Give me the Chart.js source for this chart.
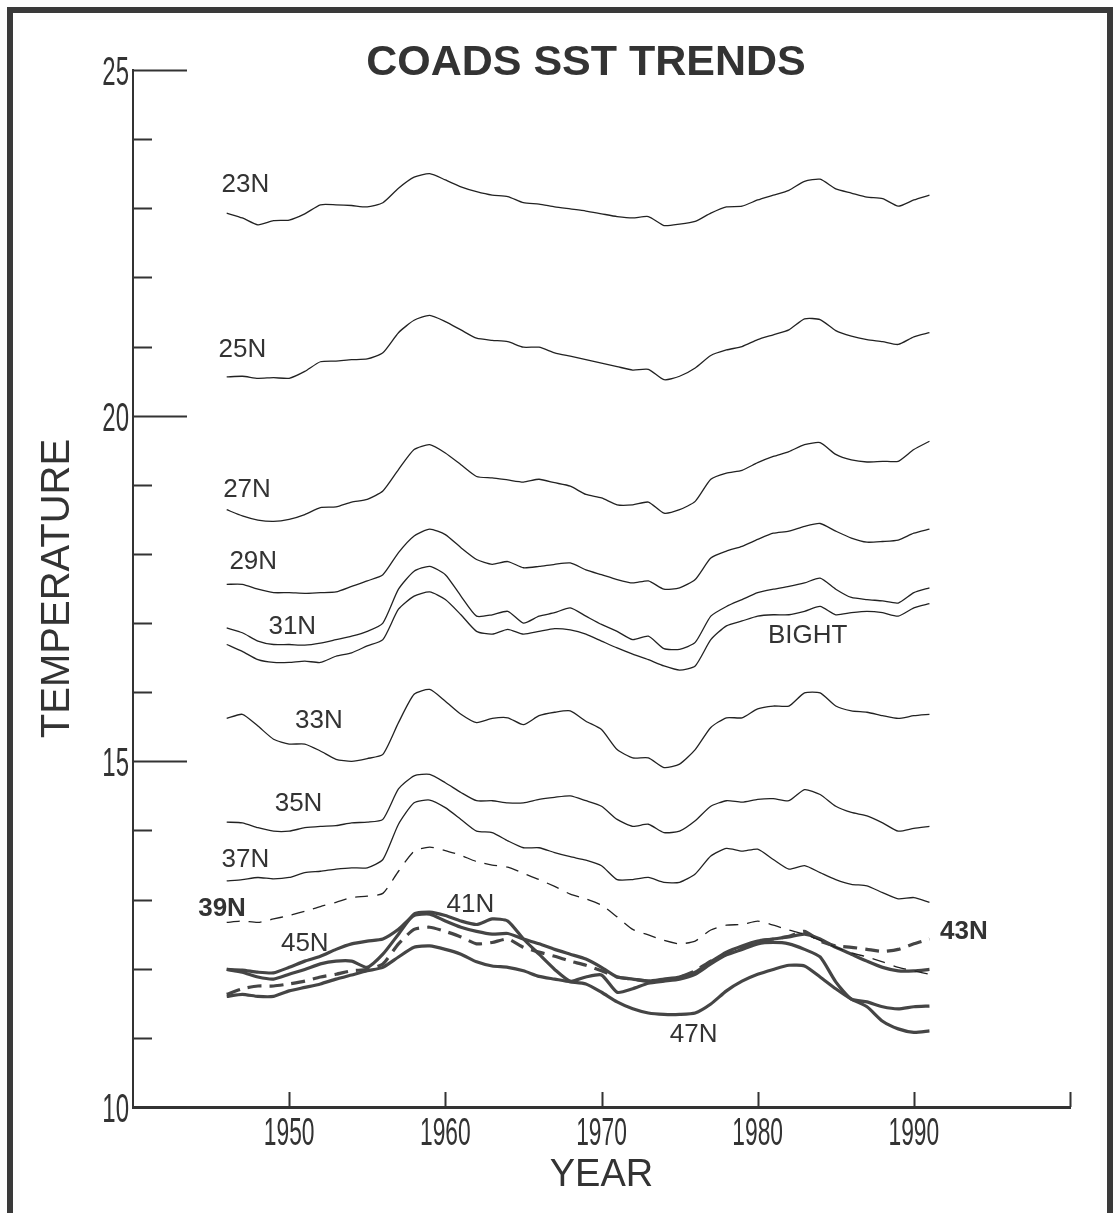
<!DOCTYPE html>
<html>
<head>
<meta charset="utf-8">
<script src="https://cdn.jsdelivr.net/npm/chart.js@4.4.1/dist/chart.umd.min.js"></script>
<style>
  html, body { margin: 0; padding: 0; background: #fff; }
  #wrap { position: relative; width: 1114px; height: 1213px; overflow: hidden; background: #fff; }
  #frame { position: absolute; left: 7px; top: 7px; width: 1094px; height: 1300px; border: 6px solid #3a3a3a; pointer-events: none; }
  canvas { position: absolute; left: 0; top: 0; }
</style>
</head>
<body>
<div id="wrap">
  <canvas id="sst" width="1114" height="1213"></canvas>
  <div id="frame"></div>
</div>
<script>
// yearly values, 1946-1991
const years = [];
for (let y = 1946; y <= 1991; y++) years.push(y);

const n23 = [22.93,22.86,22.76,22.82,22.83,22.92,23.05,23.05,23.04,23.02,23.08,23.29,23.45,23.50,23.41,23.31,23.24,23.19,23.17,23.08,23.06,23.02,22.99,22.96,22.92,22.88,22.86,22.88,22.75,22.77,22.81,22.93,23.02,23.03,23.12,23.19,23.26,23.39,23.42,23.28,23.22,23.16,23.14,23.03,23.12,23.19];
const n25 = [20.56,20.57,20.54,20.55,20.54,20.64,20.78,20.79,20.81,20.82,20.91,21.20,21.38,21.45,21.36,21.24,21.12,21.09,21.07,20.99,20.99,20.91,20.86,20.81,20.76,20.71,20.66,20.67,20.52,20.57,20.69,20.87,20.95,21.00,21.10,21.17,21.24,21.40,21.39,21.23,21.15,21.10,21.07,21.03,21.14,21.20];
const n27 = [18.64,18.55,18.49,18.47,18.50,18.57,18.67,18.68,18.75,18.79,18.91,19.22,19.51,19.58,19.46,19.29,19.12,19.10,19.07,19.04,19.08,19.03,18.98,18.86,18.81,18.71,18.71,18.75,18.59,18.64,18.76,19.08,19.17,19.21,19.32,19.41,19.48,19.58,19.61,19.44,19.36,19.33,19.34,19.34,19.51,19.63];
const n29 = [17.56,17.56,17.49,17.44,17.44,17.43,17.44,17.45,17.53,17.61,17.70,18.02,18.26,18.36,18.28,18.09,17.92,17.85,17.89,17.80,17.82,17.85,17.87,17.77,17.70,17.63,17.58,17.61,17.49,17.51,17.63,17.94,18.04,18.11,18.21,18.30,18.33,18.40,18.44,18.33,18.23,18.17,18.18,18.20,18.30,18.36];
const n31 = [16.93,16.86,16.74,16.69,16.69,16.68,16.71,16.76,16.81,16.88,17.00,17.49,17.75,17.82,17.70,17.39,17.10,17.12,17.17,17.00,17.10,17.15,17.22,17.10,16.98,16.88,16.76,16.81,16.63,16.62,16.72,17.10,17.24,17.34,17.44,17.49,17.53,17.58,17.65,17.49,17.37,17.34,17.32,17.29,17.44,17.51];
const bight = [16.69,16.59,16.47,16.43,16.43,16.45,16.43,16.52,16.57,16.67,16.76,17.20,17.39,17.45,17.34,17.12,16.88,16.84,16.91,16.84,16.88,16.92,16.90,16.84,16.74,16.64,16.55,16.47,16.38,16.32,16.38,16.76,16.96,17.03,17.10,17.12,17.12,17.17,17.24,17.12,17.15,17.17,17.15,17.10,17.22,17.28];
const n33 = [15.62,15.68,15.51,15.32,15.25,15.25,15.15,15.03,15.00,15.04,15.10,15.56,15.97,16.04,15.87,15.68,15.56,15.62,15.63,15.53,15.66,15.71,15.73,15.58,15.46,15.17,15.05,15.05,14.91,14.96,15.17,15.49,15.63,15.63,15.76,15.80,15.80,15.99,15.99,15.80,15.73,15.71,15.66,15.62,15.66,15.68];
const n35 = [14.12,14.11,14.04,13.99,13.99,14.04,14.06,14.07,14.11,14.12,14.16,14.60,14.79,14.81,14.69,14.55,14.43,14.43,14.40,14.40,14.45,14.48,14.50,14.43,14.35,14.16,14.06,14.09,13.97,13.99,14.14,14.35,14.43,14.41,14.45,14.46,14.43,14.59,14.52,14.35,14.26,14.21,14.11,13.99,14.03,14.06];
const n37 = [13.27,13.29,13.32,13.30,13.32,13.39,13.41,13.44,13.46,13.46,13.58,14.09,14.40,14.44,14.33,14.16,13.99,13.97,13.85,13.75,13.75,13.68,13.62,13.57,13.49,13.29,13.29,13.32,13.25,13.25,13.37,13.63,13.74,13.70,13.73,13.58,13.44,13.49,13.39,13.29,13.22,13.20,13.10,13.01,13.03,12.96];
const n39 = [12.67,12.69,12.67,12.72,12.77,12.83,12.90,12.96,13.03,13.05,13.09,13.41,13.70,13.76,13.71,13.64,13.55,13.50,13.47,13.38,13.29,13.19,13.08,13.01,12.92,12.75,12.57,12.49,12.41,12.36,12.40,12.56,12.63,12.64,12.69,12.63,12.56,12.50,12.41,12.31,12.23,12.17,12.10,12.02,11.97,11.92];
const n41 = [11.99,11.95,11.88,11.85,11.92,11.99,12.07,12.11,12.11,12.02,12.21,12.50,12.79,12.82,12.77,12.69,12.64,12.72,12.69,12.43,12.21,11.99,11.82,11.88,11.91,11.66,11.71,11.79,11.82,11.85,11.92,12.07,12.20,12.28,12.36,12.38,12.36,12.28,12.17,11.81,11.56,11.52,11.45,11.42,11.45,11.46];
const n43 = [11.63,11.71,11.75,11.75,11.78,11.82,11.88,11.92,11.97,11.99,12.07,12.36,12.57,12.60,12.54,12.46,12.36,12.38,12.43,12.31,12.24,12.18,12.11,12.05,11.97,11.88,11.85,11.82,11.83,11.88,11.97,12.11,12.21,12.31,12.40,12.43,12.47,12.54,12.40,12.33,12.31,12.28,12.25,12.28,12.36,12.43];
const n45 = [11.99,11.98,11.95,11.94,12.02,12.11,12.18,12.28,12.36,12.40,12.43,12.57,12.77,12.79,12.69,12.60,12.54,12.50,12.51,12.43,12.36,12.28,12.21,12.14,12.02,11.88,11.85,11.82,11.85,11.88,11.95,12.10,12.24,12.33,12.40,12.43,12.46,12.50,12.43,12.31,12.21,12.11,12.02,11.97,11.97,11.99];
const n47 = [11.60,11.63,11.60,11.60,11.68,11.73,11.78,11.85,11.91,11.97,12.02,12.17,12.31,12.33,12.28,12.21,12.10,12.04,12.02,11.97,11.89,11.85,11.81,11.78,11.66,11.52,11.42,11.36,11.34,11.34,11.36,11.49,11.68,11.82,11.92,11.99,12.05,12.04,11.88,11.71,11.56,11.45,11.24,11.13,11.08,11.10];

const xTickLabels = [1950, 1960, 1970, 1980, 1990];
const yTickLabels = [10, 15, 20, 25];

// where the series names sit (year, temperature)
const seriesLabels = [
  { text: "23N", year: 1947.2, temp: 23.34 },
  { text: "25N", year: 1947.0, temp: 20.95 },
  { text: "27N", year: 1947.3, temp: 18.93 },
  { text: "29N", year: 1947.7, temp: 17.89 },
  { text: "31N", year: 1950.2, temp: 16.94 },
  { text: "BIGHT", year: 1983.2, temp: 16.81 },
  { text: "33N", year: 1951.9, temp: 15.59 },
  { text: "35N", year: 1950.6, temp: 14.38 },
  { text: "37N", year: 1947.2, temp: 13.57 },
  { text: "39N", year: 1945.7, temp: 12.86, bold: true },
  { text: "41N", year: 1961.6, temp: 12.93 },
  { text: "43N", year: 1993.2, temp: 12.53, bold: true },
  { text: "45N", year: 1951.0, temp: 12.36 },
  { text: "47N", year: 1975.9, temp: 11.05 },
];

const INK = "#333";
const pts = (vals) => vals.map((v, i) => ({ x: years[i], y: v }));

function thin(label, vals, dash) {
  return { label, data: pts(vals), borderColor: "#222", borderWidth: 1.3, borderDash: dash || [], tension: 0.2 };
}
function thick(label, vals, dash) {
  return { label, data: pts(vals), borderColor: "#454545", borderWidth: 3.2, borderDash: dash || [], tension: 0.2 };
}

const axisMarks = {
  id: "axisMarks",
  afterDraw(chart) {
    const { ctx, chartArea: a, scales: { x, y } } = chart;
    ctx.save();
    ctx.strokeStyle = INK;
    ctx.lineWidth = 2;
    ctx.beginPath();
    y.ticks.forEach((t) => {
      const py = Math.round(y.getPixelForValue(t.value)) + 0.5;
      const len = t.value % 5 === 0 ? 54 : 19;
      ctx.moveTo(a.left, py);
      ctx.lineTo(a.left + len, py);
    });
    x.ticks.forEach((t) => {
      if (t.value === x.min) return;
      const px = Math.round(x.getPixelForValue(t.value)) + 0.5;
      ctx.moveTo(px, a.bottom);
      ctx.lineTo(px, a.bottom - 15);
    });
    ctx.stroke();

    // condensed numerals like the original
    ctx.fillStyle = INK;
    ctx.font = '40px "Liberation Sans", Arial, sans-serif';
    ctx.textAlign = "right";
    ctx.textBaseline = "alphabetic";
    yTickLabels.forEach((v) => {
      ctx.save();
      ctx.translate(a.left - 4, y.getPixelForValue(v) + 15);
      ctx.scale(0.6, 1);
      ctx.fillText(String(v), 0, 0);
      ctx.restore();
    });
    ctx.font = '38px "Liberation Sans", Arial, sans-serif';
    ctx.textAlign = "center";
    xTickLabels.forEach((v) => {
      ctx.save();
      ctx.translate(x.getPixelForValue(v), a.bottom + 38);
      ctx.scale(0.6, 1);
      ctx.fillText(String(v), 0, 0);
      ctx.restore();
    });

    ctx.textBaseline = "middle";
    seriesLabels.forEach((l) => {
      ctx.font = (l.bold ? "bold " : "") + '26px "Liberation Sans", Arial, sans-serif';
      ctx.fillText(l.text, x.getPixelForValue(l.year), y.getPixelForValue(l.temp));
    });

    ctx.font = 'bold 43px "Liberation Sans", Arial, sans-serif';
    ctx.textBaseline = "alphabetic";
    ctx.fillText("COADS SST TRENDS", 586, 75);
    ctx.restore();
  },
};

new Chart(document.getElementById("sst"), {
  type: "line",
  data: {
    datasets: [
      thin("23N", n23),
      thin("25N", n25),
      thin("27N", n27),
      thin("29N", n29),
      thin("31N", n31),
      thin("BIGHT", bight),
      thin("33N", n33),
      thin("35N", n35),
      thin("37N", n37),
      thin("39N", n39, [13, 9]),
      thick("41N", n41),
      thick("43N", n43, [14, 8]),
      thick("45N", n45),
      thick("47N", n47),
    ],
  },
  options: {
    responsive: false,
    animation: false,
    layout: { padding: { top: 70, right: 44, left: 0, bottom: 0 } },
    elements: { point: { radius: 0 } },
    plugins: { legend: { display: false }, tooltip: { enabled: false } },
    scales: {
      x: {
        type: "linear",
        min: 1940,
        max: 2000,
        ticks: { display: false, stepSize: 10 },
        grid: { display: false },
        border: { display: true, color: INK, width: 3 },
        title: {
          display: true,
          text: "YEAR",
          color: INK,
          font: { family: '"Liberation Sans", Arial, sans-serif', size: 38 },
          padding: { top: 0, bottom: 15 },
        },
        afterFit(s) { s.height = 106; },
      },
      y: {
        min: 10,
        max: 25,
        ticks: { display: false, stepSize: 1 },
        grid: { display: false },
        border: { display: true, color: INK, width: 2 },
        title: {
          display: true,
          text: "TEMPERATURE",
          color: INK,
          font: { family: '"Liberation Sans", Arial, sans-serif', size: 40 },
          padding: { top: 34, bottom: 0 },
        },
        afterFit(s) { s.width = 133; },
      },
    },
  },
  plugins: [axisMarks],
});
</script>
</body>
</html>
